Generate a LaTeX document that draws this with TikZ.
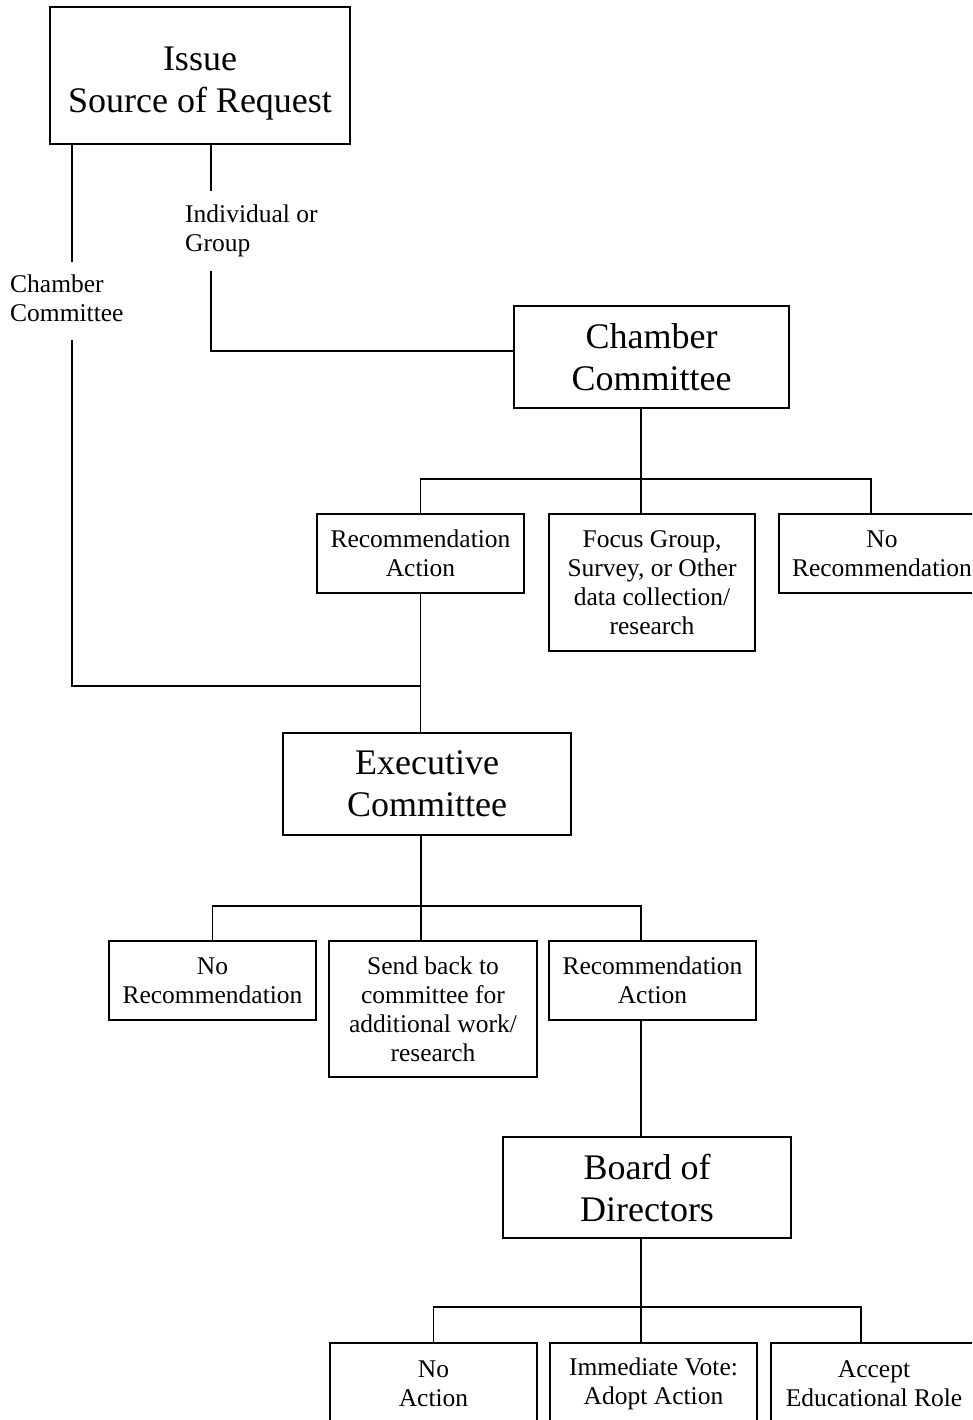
\documentclass[tikz,border=0pt]{standalone}
\usepackage{fontspec}
\setmainfont{Liberation Serif}

\tikzset{
  box/.style={draw, line width=1.6pt, inner sep=0pt, align=center,
    font=\fontsize{25.5}{29}\selectfont},
  bigbox/.style={box, font=\fontsize{36}{42}\selectfont},
  lbl/.style={anchor=west, inner sep=0pt, align=left,
    font=\fontsize{25.5}{29}\selectfont},
  link/.style={line width=1.6pt}
}

\begin{document}
\begin{tikzpicture}[x=1pt,y=-1pt]
  \clip (0,0) rectangle (972,1420);
  % boxes
  \node[bigbox, minimum width=300, minimum height=137] (issue) at (200,75.5) {\rule{0pt}{40pt}Issue\\Source of Request};
  \node[bigbox, minimum width=275, minimum height=102] (chamber) at (651.5,357) {Chamber\\Committee};
  \node[box, minimum width=207, minimum height=79] (recA) at (420.5,553.5) {Recommendation\\Action};
  \node[box, minimum width=206, minimum height=137] (focus) at (652,582.5) {Focus Group,\\Survey, or Other\\data collection/\\research};
  \node[box, minimum width=206, minimum height=79] (norecA) at (882,553.5) {No\\Recommendation};
  \node[bigbox, minimum width=288, minimum height=102] (exec) at (427,784) {Executive\\Committee};
  \node[box, minimum width=207, minimum height=79] (norecB) at (212.5,980.5) {No\\Recommendation};
  \node[box, minimum width=208, minimum height=136] (sendback) at (433,1009) {Send back to\\committee for\\additional work/\\research};
  \node[box, minimum width=207, minimum height=79] (recB) at (652.5,980.5) {Recommendation\\Action};
  \node[bigbox, minimum width=288, minimum height=101] (board) at (647,1187.5) {Board of\\Directors};
  \node[box, minimum width=207, minimum height=82] (noact) at (433.5,1384) {No\\Action};
  \node[box, minimum width=207, minimum height=82] (vote) at (653.5,1384) {Immediate Vote:\\Adopt Action};
  \node[box, minimum width=206, minimum height=82] (accept) at (874,1384) {Accept\\Educational Role};

  % labels on the two first links
  \node[lbl] (lblcc) at (10,298) {Chamber\\Committee};
  \node[lbl] (lblig) at (185,231) {Individual or\\Group};

  \coordinate (ccA) at (72,262);
  \coordinate (ccB) at (72,340);
  \coordinate (igA) at (211,191);
  \coordinate (igB) at (211,271);
  \coordinate (jE) at (421,686);
  \coordinate (jC) at (641,479);
  \coordinate (jN) at (871,479);
  \coordinate (jX) at (421,906);
  \coordinate (jB) at (641,1307);

  % links
  \draw[link] (issue.south -| ccA) -- (ccA);
  \draw[link] (ccB) |- (jE);
  \draw[link] (issue.south -| igA) -- (igA);
  \draw[link] (igB) |- ([yshift=6pt]chamber.west);

  \draw[link] (chamber.south -| jC) -- (jC |- focus.north);
  \draw[link] (recA.north) |- (jN) -- (jN |- norecA.north);
  \draw[link] (recA.south) -- (recA.south |- exec.north);

  \draw[link] (exec.south -| jX) -- (jX |- sendback.north);
  \draw[link] (norecB.north) |- (jX) -| (recB.north -| 641,0);
  \draw[link] (recB.south -| 641,0) -- (641,0 |- board.north);

  \draw[link] (board.south -| jB) -- (jB |- vote.north);
  \draw[link] (noact.north) |- (jB) -| (accept.north -| 861,0);
\end{tikzpicture}
\end{document}
